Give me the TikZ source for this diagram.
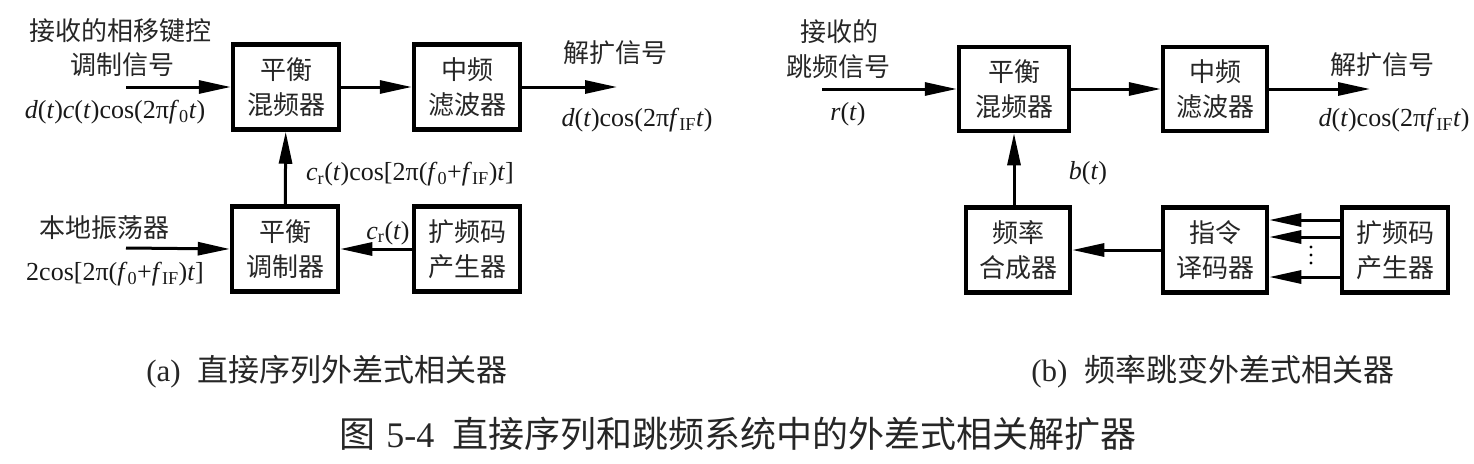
\documentclass[tikz,border=0pt]{standalone}
\usepackage{fontspec}
\setmainfont{Liberation Serif}
\newfontfamily\cjk{Noto Sans CJK SC}
\usetikzlibrary{arrows.meta}
\newcommand{\ii}[1]{\textit{#1}}
\begin{document}
\begin{tikzpicture}[x=1pt,y=-1pt,
  blk/.style={draw, line width=4.5pt, minimum width=106pt, minimum height=85pt, inner sep=0pt, align=center,
    font=\cjk\fontsize{26}{35}\selectfont, text=black!85},
  lbl/.style={inner sep=0pt, align=center, font=\cjk\fontsize{26}{35}\selectfont, text=black!85},
  mth/.style={inner sep=0pt, font=\fontsize{26}{30}\selectfont, text=black!90},
  arr/.style={line width=3pt, -{Triangle[length=32pt,width=13pt]}},
  captxt/.style={inner sep=0pt, font=\fontsize{31}{36}\selectfont, text=black!85}]
\useasboundingbox (0,0) rectangle (1474,463);

% ---------- (a) ----------
\node[blk] (mix1) at (286,87) {平衡\\混频器};
\node[blk] (filt1) at (467,87) {中频\\滤波器};
\node[blk] (mod1) at (285,249) {平衡\\调制器};
\node[blk] (gen1) at (467,249) {扩频码\\产生器};

\coordinate (in1) at (126,87);
\coordinate (out1) at (617,87);
\coordinate (lo1) at (126,248);

\draw[arr] (in1) -- (mix1.west);
\draw[arr] (mix1) -- (filt1);
\draw[arr] (filt1.east) -- (out1);
\draw[arr] (mod1) -- (mix1);
\draw[arr] (lo1) -- (mod1.west);
\draw[arr] (gen1) -- (mod1);

\node[lbl] (t1) at (120,31) {接收的相移键控};
\node[lbl] (t2) at (122,65) {调制信号};
\node[mth] (t3) at (115,112) {\ii{d}(\ii{t})\ii{c}(\ii{t})cos(2π\ii{f}\textsubscript{0}\ii{t})};
\node[lbl] (t4) at (615,53) {解扩信号};
\node[mth] (t5) at (637,120) {\ii{d}(\ii{t})cos(2π\ii{f}\textsubscript{IF}\ii{t})};
\node[mth] (t6) at (410,174) {\ii{c}\textsubscript{r}(\ii{t})cos[2π(\ii{f}\textsubscript{0}+\ii{f}\textsubscript{IF})\ii{t}]};
\node[lbl] (t7) at (104,228) {本地振荡器};
\node[mth] (t8) at (115,274) {2cos[2π(\ii{f}\textsubscript{0}+\ii{f}\textsubscript{IF})\ii{t}]};
\node[mth] (t9) at (388,233) {\ii{c}\textsubscript{r}(\ii{t})};

% ---------- (b) ----------
\node[blk, minimum width=110pt, minimum height=84pt] (mix2) at (1014,89) {平衡\\混频器};
\node[blk, minimum width=104pt, minimum height=84pt] (filt2) at (1215,89) {中频\\滤波器};
\node[blk, minimum width=104pt] (syn2) at (1018,250) {频率\\合成器};
\node[blk, minimum width=104pt] (dec2) at (1215,250) {指令\\译码器};
\node[blk] (gen2) at (1395,250) {扩频码\\产生器};

\coordinate (in2) at (822,89);
\coordinate (out2) at (1370,89);

\draw[arr] (in2) -- (mix2.west);
\draw[arr] (mix2) -- (filt2);
\draw[arr] (filt2.east) -- (out2);
\draw[arr] (syn2.north -| mix2.south) -- (mix2.south);
\draw[arr] (dec2) -- (syn2);
\draw[arr] (gen2.west |- 0,220) -- (dec2.east |- 0,220);
\draw[arr] (gen2.west |- 0,237) -- (dec2.east |- 0,237);
\draw[arr] (gen2.west |- 0,277) -- (dec2.east |- 0,277);
\foreach \yy in {247,255,263} \fill (1311,\yy) circle (1.6pt);

\node[lbl] (u1) at (839,32) {接收的};
\node[lbl] (u2) at (838,67) {跳频信号};
\node[mth] (u3) at (848,114) {\ii{r}(\ii{t})};
\node[mth] (u4) at (1088,173) {\ii{b}(\ii{t})};
\node[lbl] (u5) at (1382,65) {解扩信号};
\node[mth] (u6) at (1394,120) {\ii{d}(\ii{t})cos(2π\ii{f}\textsubscript{IF}\ii{t})};

% ---------- captions ----------
\node[captxt] (ca) at (327,372) {(a)\hspace{0.55em}{\cjk 直接序列外差式相关器}};
\node[captxt] (cb) at (1213,372) {(b)\hspace{0.55em}{\cjk 频率跳变外差式相关器}};
\node[inner sep=0pt, font=\fontsize{36}{40}\selectfont, text=black!85] (title) at (738,434)
  {{\cjk 图}\hspace{0.3em}5-4\hspace{0.5em}{\cjk 直接序列和跳频系统中的外差式相关解扩器}};
\end{tikzpicture}
\end{document}
